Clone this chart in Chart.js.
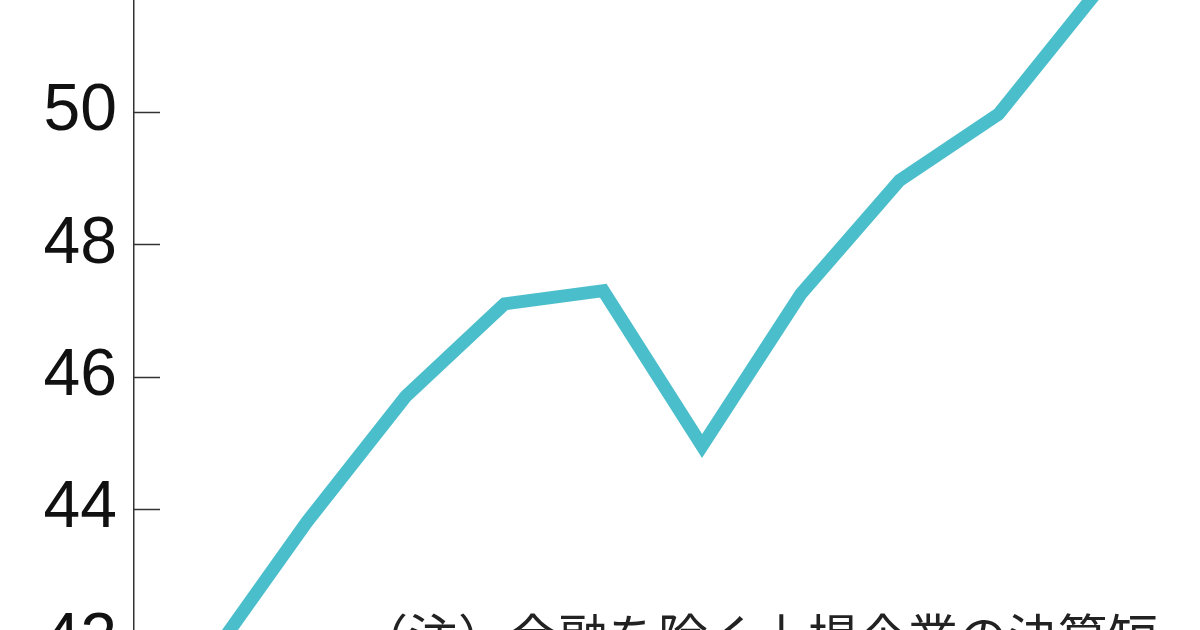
<!DOCTYPE html>
<html>
<head>
<meta charset="utf-8">
<script src="https://cdn.jsdelivr.net/npm/chart.js@4/dist/chart.umd.min.js"></script>
<style>
  html, body { margin:0; padding:0; width:1200px; height:630px; overflow:hidden; background:#fff; }
  #wrap { position:absolute; left:0; top:-100px; width:1200px; height:820px; }
  #note { position:absolute; left:358px; top:609px; font-family:"Noto Sans CJK JP", sans-serif; font-size:50px; line-height:50px; color:#222; white-space:nowrap; }
</style>
</head>
<body>
<div id="wrap"><canvas id="c"></canvas></div>
<div id="note">（注）金融を除く上場企業の決算短</div>
<script>
// Data
const categories = ['1','2','3','4','5','6','7','8','9','10'];
const values = [41.7, 43.8, 45.7, 47.1, 47.3, 44.95, 47.25, 48.97, 49.97, 51.83];
const yTicks = [42, 44, 46, 48, 50, 52];

const points = values.map((v, i) => ({ x: i, y: v }));

const innerTicks = {
  id: 'innerTicks',
  afterDatasetsDraw(chart) {
    const ys = chart.scales.y;
    const ctx = chart.ctx;
    const x0 = chart.chartArea.left;
    ctx.save();
    ctx.strokeStyle = '#333';
    ctx.lineWidth = 1.5;
    yTicks.forEach(t => {
      const py = Math.round(ys.getPixelForValue(t)) + 0.5;
      ctx.beginPath();
      ctx.moveTo(x0, py);
      ctx.lineTo(x0 + 26, py);
      ctx.stroke();
    });
    ctx.restore();
  }
};

new Chart(document.getElementById('c'), {
  type: 'line',
  data: {
    labels: categories,
    datasets: [{
      data: points,
      borderColor: '#4BBECB',
      borderWidth: 13,
      pointRadius: 0,
      tension: 0,
      fill: false,
      clip: false
    }]
  },
  options: {
    responsive: true,
    maintainAspectRatio: false,
    animation: false,
    events: [],
    layout: { padding: { top: 14, bottom: 13, left: 0, right: 0 } },
    plugins: { legend: { display: false }, tooltip: { enabled: false } },
    scales: {
      x: {
        type: 'linear',
        display: false,
        min: -0.75,
        max: 10.04
      },
      y: {
        min: 41,
        max: 53,
        afterFit(scale) { scale.width = 134; scale.paddingTop = 0; scale.paddingBottom = 0; },
        afterBuildTicks(scale) { scale.ticks = yTicks.map(v => ({ value: v })); },
        grid: { display: false, drawTicks: false },
        border: { display: true, color: '#333', width: 1.5 },
        ticks: {
          padding: 17,
          color: '#111',
          font: { family: 'Liberation Sans', size: 66 },
          callback: v => String(v)
        }
      }
    }
  },
  plugins: [innerTicks]
});
</script>
</body>
</html>
